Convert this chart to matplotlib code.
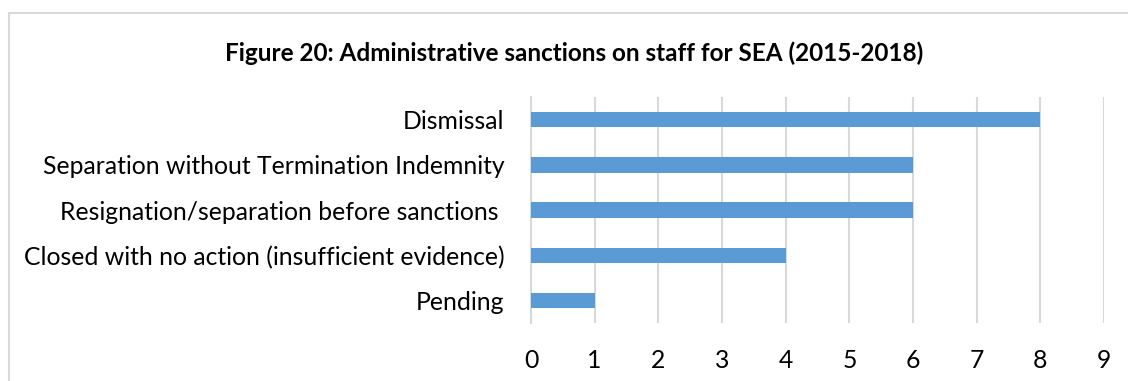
import matplotlib.pyplot as plt
from matplotlib.lines import Line2D

# Sanction outcomes, top to bottom as listed in the figure
categories = [
    "Dismissal",
    "Separation without Termination Indemnity",
    "Resignation/separation before sanctions ",
    "Closed with no action (insufficient evidence)",
    "Pending",
]
counts = [8, 6, 6, 4, 1]
ticks = list(range(0, 10))

plt.rcParams['font.family'] = ['Lato', 'DejaVu Sans']

fig = plt.figure(figsize=(11.28, 3.81), dpi=100)
ax = fig.add_axes([0.4707, 0.152, 0.508, 0.593])

ypos = list(range(len(categories)))
ax.barh(ypos, counts, height=0.34, color="#5B9BD5", zorder=3)
ax.set_ylim(len(categories) - 0.5, -0.5)
ax.set_yticks(ypos)
ax.set_yticklabels(categories, fontsize=17.8, color="#000000")

ax.set_xlim(0, 9)
ax.set_xticks(ticks)
ax.set_xticklabels([str(t) for t in ticks], fontsize=17.8, color="#000000")
ax.grid(axis="x", color="#D9D9D9", linewidth=1.5, zorder=0)
ax.tick_params(axis="both", length=0)
ax.tick_params(axis="x", pad=19)
ax.tick_params(axis="y", pad=19)
for side in ["top", "right", "bottom"]:
    ax.spines[side].set_visible(False)
ax.spines["left"].set_color("#D9D9D9")
ax.spines["left"].set_linewidth(1.5)

fig.text(0.509, 0.86, "Figure 20: Administrative sanctions on staff for SEA (2015-2018)",
         ha="center", va="center", fontsize=17.5, fontweight="bold")

# chart area border (only top and left edges fall inside the image)
fig.add_artist(Line2D([0.008, 1.0], [0.966, 0.966], color="#D9D9D9", linewidth=1.5))
fig.add_artist(Line2D([0.008, 0.008], [0.0, 0.966], color="#D9D9D9", linewidth=1.5))

fig.savefig("out.png", dpi=100)
